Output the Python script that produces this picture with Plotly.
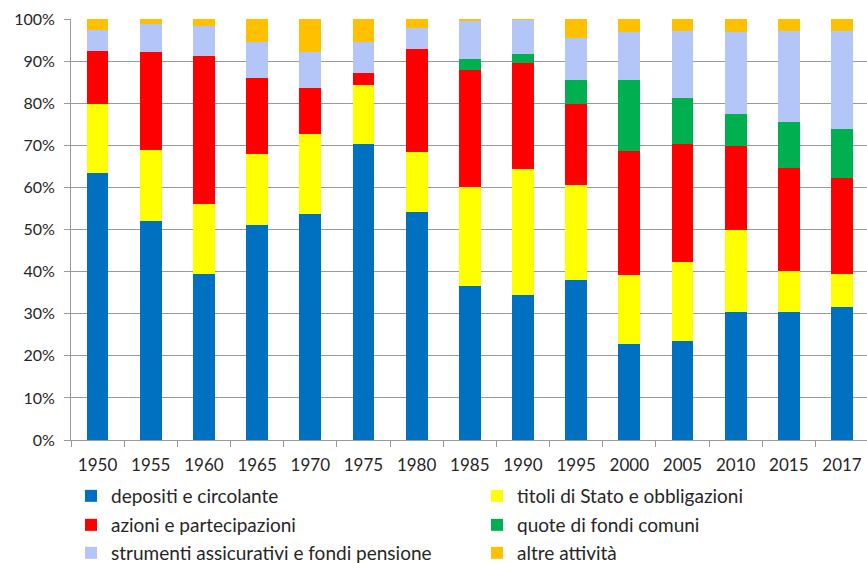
import plotly.graph_objects as go

years = ["1950", "1955", "1960", "1965", "1970", "1975", "1980", "1985",
         "1990", "1995", "2000", "2005", "2010", "2015", "2017"]

depositi = [63.5, 52.1, 39.4, 51.0, 53.8, 70.3, 54.1, 36.5, 34.4, 38.0, 22.7, 23.4, 30.3, 30.4, 31.5]
titoli = [16.2, 16.9, 16.6, 16.9, 19.0, 14.1, 14.4, 23.6, 30.0, 22.5, 16.5, 18.9, 19.7, 9.8, 7.9]
azioni = [12.8, 23.1, 35.3, 18.1, 10.8, 2.7, 24.3, 27.9, 25.1, 19.2, 29.4, 28.0, 19.8, 24.5, 22.8]
fondi = [0, 0, 0, 0, 0, 0, 0, 2.4, 2.3, 5.7, 16.8, 10.9, 7.7, 10.9, 11.7]
assicurativi = [5.0, 6.7, 7.0, 8.5, 8.6, 7.4, 5.1, 9.2, 8.0, 10.2, 11.4, 15.9, 19.3, 21.5, 23.3]
altre = [2.5, 1.2, 1.7, 5.5, 7.8, 5.5, 2.1, 0.4, 0.2, 4.4, 3.2, 2.9, 3.2, 2.9, 2.8]

series = [
    ("depositi e circolante", depositi, "#0070C0"),
    ("titoli di Stato e obbligazioni", titoli, "#FFFF00"),
    ("azioni e partecipazioni", azioni, "#FF0000"),
    ("quote di fondi comuni", fondi, "#00B050"),
    ("strumenti assicurativi e fondi pensione", assicurativi, "#B4C6F7"),
    ("altre attività", altre, "#FFC000"),
]

W, H = 867, 563
FONT = "Lato, 'Open Sans', sans-serif"
TXT = "#262626"

# legend placements (container px): square left x, row centre y
leg_pos = [(83, 496), (489, 496), (83, 525), (489, 525), (83, 553), (489, 553)]

fig = go.Figure()
layout_legends = {}
for i, (name, vals, col) in enumerate(series):
    lname = "legend" if i == 0 else f"legend{i+1}"
    fig.add_trace(go.Bar(
        x=years, y=vals, name=name,
        marker=dict(color=col, line=dict(width=0)),
        legend=lname,
    ))
    sx, sy = leg_pos[i]
    layout_legends[lname] = dict(
        xref="container", yref="container",
        x=(sx - 12) / W, y=1 - sy / H,
        xanchor="left", yanchor="middle",
        orientation="h",
        font=dict(family=FONT, size=19, color=TXT),
        bgcolor="rgba(0,0,0,0)", borderwidth=0,
        itemclick=False, itemdoubleclick=False,
    )

fig.update_layout(
    width=W, height=H,
    barmode="stack",
    bargap=0.59,
    plot_bgcolor="white",
    paper_bgcolor="white",
    margin=dict(l=71, r=0, t=19, b=123, pad=0),
    font=dict(family=FONT, size=16, color=TXT),
    showlegend=True,
    **layout_legends,
)

fig.update_xaxes(
    type="category",
    range=[-0.5, 14.47],
    showgrid=False,
    showline=True, linecolor="#9A9A9A", linewidth=1,
    ticks="outside", tickson="boundaries", ticklen=6, tickcolor="#9A9A9A",
    tickfont=dict(family=FONT, size=17, color=TXT),
    ticklabelstandoff=10,
)
fig.update_yaxes(
    range=[0, 100],
    dtick=10,
    ticksuffix="%",
    showgrid=True, gridcolor="#9A9A9A", gridwidth=1,
    showline=True, linecolor="#9A9A9A", linewidth=1,
    ticks="outside", ticklen=6, tickcolor="#9A9A9A",
    tickfont=dict(family=FONT, size=16, color=TXT),
    ticklabelstandoff=6,
    zeroline=False,
)

fig.write_html(
    "out.html",
    config={"displayModeBar": False},
    post_script="document.body.style.margin='0';document.body.style.padding='0';",
)
